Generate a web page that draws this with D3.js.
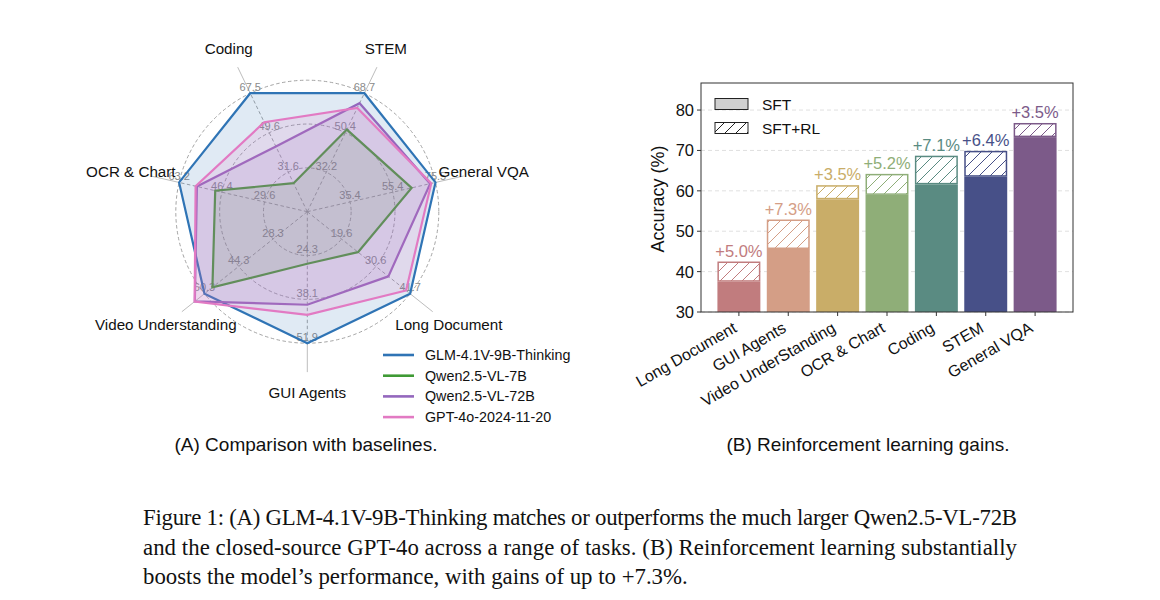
<!DOCTYPE html>
<html>
<head>
<meta charset="utf-8">
<script src="https://cdn.jsdelivr.net/npm/d3@7"></script>
<style>
  html, body { margin: 0; padding: 0; background: #fff; }
  svg { display: block; }
  text { font-family: "Liberation Sans", Arial, Helvetica, sans-serif; }
  text.caption { font-family: "Liberation Serif", "Times New Roman", serif; }
</style>
</head>
<body>
<svg id="fig" width="1160" height="600"></svg>
<script>
// ---------- Radar data (clockwise, starting at Long Document) ----------
const radarAxes = ["Long Document", "GUI Agents", "Video Understanding", "OCR & Chart", "Coding", "STEM", "General VQA"];
const tickInner = [19.6, 24.3, 28.3, 29.6, 31.6, 32.2, 35.4];
const tickMid   = [30.6, 38.1, 44.3, 46.4, 49.6, 50.4, 55.4];
const tickOuter = [41.7, 51.9, 60.3, 63.2, 67.5, 68.7, 75.5];
const modelNames = ["GLM-4.1V-9B-Thinking", "Qwen2.5-VL-7B", "Qwen2.5-VL-72B", "GPT-4o-2024-11-20"];
const glmVals    = [41.7, 51.9, 60.3, 63.2, 67.5, 68.7, 75.5];
const qwen7Vals  = [24.9, 26.9, 56.6, 49.0, 26.6, 51.9, 64.3];
const qwen72Vals = [34.7, 39.8, 64.8, 56.2, 43.3, 64.1, 73.0];
const gptVals    = [40.4, 43.0, 64.9, 56.7, 54.3, 61.9, 73.5];
const modelColors = ["#2f74b5", "#3f9a35", "#9467bd", "#e27ac3"];

// ---------- Bar data ----------
const barCats  = ["Long Document", "GUI Agents", "Video UnderStanding", "OCR & Chart", "Coding", "STEM", "General VQA"];
const sftVals  = [37.5, 45.6, 57.9, 59.0, 61.6, 63.5, 73.3];
const rlGains  = [5.0, 7.3, 3.5, 5.2, 7.1, 6.4, 3.5];
const barColors = ["#c17c7e", "#d49e86", "#c9ad68", "#8fae78", "#5a8b82", "#475088", "#7c5a89"];
const yTicks = [30, 40, 50, 60, 70, 80];

const captionLines = [
  "Figure 1: (A) GLM-4.1V-9B-Thinking matches or outperforms the much larger Qwen2.5-VL-72B",
  "and the closed-source GPT-4o across a range of tasks.  (B) Reinforcement learning substantially",
  "boosts the model\u2019s performance, with gains of up to +7.3%."
];

const svg = d3.select("#fig");

// ================= RADAR =================
const cx = 307.3, cy = 211.7, R = 131.5;
const nAx = radarAxes.length;
const step = 2 * Math.PI / nAx;
const angleOf = i => (128.571 * Math.PI / 180) + i * step; // clockwise from top
const rScales = radarAxes.map((a, i) => d3.scaleLinear().domain([tickInner[i], tickOuter[i]]).range([R / 3, R]));
const pt = (i, r) => [cx + r * Math.sin(angleOf(i)), cy - r * Math.cos(angleOf(i))];

const radar = svg.append("g");
[R / 3, 2 * R / 3, R].forEach(r => {
  radar.append("circle").attr("cx", cx).attr("cy", cy).attr("r", r)
    .attr("fill", "none").attr("stroke", "#9a9a9a").attr("stroke-width", 0.9)
    .attr("stroke-dasharray", "3.5,2.5");
});
radarAxes.forEach((a, i) => {
  const [x1, y1] = pt(i, R);
  radar.append("line").attr("x1", cx).attr("y1", cy).attr("x2", x1).attr("y2", y1)
    .attr("stroke", "#9a9a9a").attr("stroke-width", 0.9).attr("stroke-dasharray", "3.5,2.5");
  const [x2, y2] = pt(i, R * 1.22);
  radar.append("line").attr("x1", x1).attr("y1", y1).attr("x2", x2).attr("y2", y2)
    .attr("stroke", "#bdbdbd").attr("stroke-width", 1);
});
radarAxes.forEach((a, i) => {
  [tickInner[i], tickMid[i], tickOuter[i]].forEach(v => {
    const [x, y] = pt(i, rScales[i](v));
    radar.append("text").attr("x", x).attr("y", y - 2.5).attr("text-anchor", "middle")
      .attr("font-size", 11).attr("fill", "#8a8a8a").text(v.toFixed(1));
  });
});
const series = [glmVals, qwen7Vals, qwen72Vals, gptVals];
const lineGen = d3.line().curve(d3.curveLinearClosed);
series.forEach((vals, s) => {
  const pts = vals.map((v, i) => pt(i, rScales[i](v)));
  radar.append("path").attr("d", lineGen(pts))
    .attr("fill", modelColors[s]).attr("fill-opacity", 0.15)
    .attr("stroke", modelColors[s]).attr("stroke-width", 2.2).attr("stroke-linejoin", "miter");
});
radarAxes.forEach((a, i) => {
  const [x, y] = pt(i, 181);
  radar.append("text").attr("x", x).attr("y", y).attr("text-anchor", "middle")
    .attr("dominant-baseline", "central").attr("font-size", 15.2).attr("fill", "#111").text(a);
});
const lg = svg.append("g");
modelNames.forEach((m, k) => {
  const y = 355 + k * 20.7;
  lg.append("line").attr("x1", 383).attr("x2", 414).attr("y1", y).attr("y2", y)
    .attr("stroke", modelColors[k]).attr("stroke-width", 2.6);
  lg.append("text").attr("x", 425).attr("y", y + 5).attr("font-size", 14.3).attr("fill", "#111").text(m);
});
svg.append("text").attr("x", 306).attr("y", 451).attr("text-anchor", "middle")
  .attr("font-size", 19).attr("fill", "#111").text("(A) Comparison with baselines.");

// ================= BARS =================
const L = 701, Rt = 1073, T = 83, B = 312;
const x = d3.scaleLinear().domain([-0.7675, barCats.length - 1 + 0.7675]).range([L, Rt]);
const y = d3.scaleLinear().domain([30, 86.7]).range([B, T]);
const bw = (x(1) - x(0)) * 0.87;

const defs = svg.append("defs");
const hatch = (id, color) => {
  const p = defs.append("pattern").attr("id", id).attr("patternUnits", "userSpaceOnUse")
    .attr("width", 11).attr("height", 11);
  p.append("rect").attr("width", 11).attr("height", 11).attr("fill", "#fff");
  p.append("path").attr("d", "M0,11 L11,0 M-2.75,2.75 L2.75,-2.75 M8.25,13.75 L13.75,8.25")
    .attr("stroke", color).attr("stroke-width", 1);
};
barColors.forEach((c, i) => hatch("h" + i, c));
hatch("hk", "#222");

const bars = svg.append("g");
yTicks.forEach(t => {
  bars.append("line").attr("x1", L).attr("x2", Rt).attr("y1", y(t)).attr("y2", y(t))
    .attr("stroke", "#d8d8d8").attr("stroke-width", 0.8).attr("stroke-dasharray", "4,3");
});
barCats.forEach((c, i) => {
  const x0 = x(i) - bw / 2;
  const total = sftVals[i] + rlGains[i];
  bars.append("rect").attr("x", x0).attr("y", y(sftVals[i])).attr("width", bw)
    .attr("height", y(30) - y(sftVals[i])).attr("fill", barColors[i]);
  bars.append("rect").attr("x", x0 + 0.75).attr("y", y(total) + 0.75).attr("width", bw - 1.5)
    .attr("height", y(sftVals[i]) - y(total) - 1.5).attr("fill", "url(#h" + i + ")")
    .attr("stroke", barColors[i]).attr("stroke-width", 1.5);
  bars.append("text").attr("x", x(i)).attr("y", y(total) - 5).attr("text-anchor", "middle")
    .attr("font-size", 16.5).attr("fill", barColors[i]).text("+" + rlGains[i].toFixed(1) + "%");
});
bars.append("rect").attr("x", L).attr("y", T).attr("width", Rt - L).attr("height", B - T)
  .attr("fill", "none").attr("stroke", "#333").attr("stroke-width", 1);
yTicks.forEach(t => {
  bars.append("line").attr("x1", L - 4).attr("x2", L).attr("y1", y(t)).attr("y2", y(t))
    .attr("stroke", "#333").attr("stroke-width", 1);
  bars.append("text").attr("x", L - 7).attr("y", y(t)).attr("dominant-baseline", "central")
    .attr("text-anchor", "end").attr("font-size", 16.5).attr("fill", "#111").text(t);
});
barCats.forEach((c, i) => {
  bars.append("line").attr("x1", x(i)).attr("x2", x(i)).attr("y1", B).attr("y2", B + 4)
    .attr("stroke", "#333").attr("stroke-width", 1);
  bars.append("text").attr("transform", `translate(${x(i) - 1},${B + 19}) rotate(-30)`)
    .attr("text-anchor", "end").attr("font-size", 16).attr("fill", "#111").text(c);
});
bars.append("text").attr("transform", `translate(664,199) rotate(-90)`).attr("text-anchor", "middle")
  .attr("font-size", 18).attr("fill", "#111").text("Accuracy (%)");
bars.append("rect").attr("x", 715).attr("y", 98.5).attr("width", 33).attr("height", 11)
  .attr("fill", "#d0d0d0").attr("stroke", "#222").attr("stroke-width", 1);
bars.append("text").attr("x", 762).attr("y", 109.5).attr("font-size", 15.5).attr("fill", "#111").text("SFT");
bars.append("rect").attr("x", 715).attr("y", 122.5).attr("width", 33).attr("height", 11)
  .attr("fill", "url(#hk)").attr("stroke", "#222").attr("stroke-width", 1);
bars.append("text").attr("x", 762).attr("y", 133.5).attr("font-size", 15.5).attr("fill", "#111").text("SFT+RL");
svg.append("text").attr("x", 868).attr("y", 451).attr("text-anchor", "middle")
  .attr("font-size", 19).attr("fill", "#111").text("(B) Reinforcement learning gains.");

// ================= CAPTION =================
captionLines.forEach((line, k) => {
  const t = svg.append("text").attr("class", "caption").attr("x", 143).attr("y", 525 + k * 29.5)
    .style("font-family", "'Liberation Serif', 'Times New Roman', serif")
    .attr("font-size", 22.8).attr("fill", "#111").text(line);
  if (k < captionLines.length - 1) t.attr("textLength", 874).attr("lengthAdjust", "spacing");
});
</script>
</body>
</html>
